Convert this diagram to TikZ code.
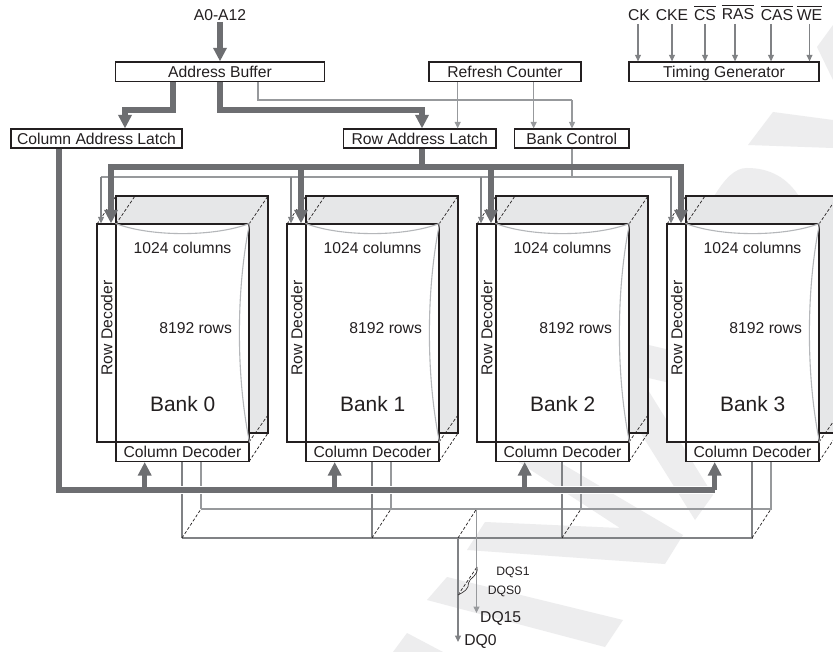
\documentclass[tikz,border=0pt]{standalone}
\usepackage{fontspec}
\setmainfont{Liberation Sans}
\usetikzlibrary{arrows.meta}
\definecolor{ink}{HTML}{231F20}
\definecolor{heavy}{HTML}{6D6E71}
\definecolor{mid}{HTML}{808285}
\definecolor{soft}{HTML}{97999C}
\definecolor{curve}{HTML}{B5B7BA}
\definecolor{backg}{HTML}{E6E7E8}
\definecolor{wmark}{HTML}{EDEDEE}
\newcommand{\ovl}[1]{\leavevmode\vbox{\hrule height 0.9pt\kern 3.2pt\hbox{#1}}}
\tikzset{
  every node/.style={text=ink,inner sep=0pt,font=\fontsize{15.7}{18}\selectfont},
  box/.style={draw=ink,line width=1.2pt,fill=white,text height=12pt,text depth=0pt},
  thickl/.style={draw=heavy,line width=5.3pt},
  bigtip/.style={-{Triangle[width=13pt,length=13.5pt]}},
  thinl/.style={draw=mid,line width=1.1pt},
  softl/.style={draw=soft,line width=1.1pt},
  thintip/.style={-{Triangle[width=6pt,length=6.5pt]}},
  dashl/.style={draw=ink,line width=0.7pt,dash pattern=on 3pt off 2pt},
  edgel/.style={draw=ink,line width=1.2pt},
  bowl/.style={draw=curve,line width=1.1pt},
  wmfill/.style={fill=wmark,draw=none}
}
\begin{document}
\begin{tikzpicture}[x=1pt,y=-1pt]
\useasboundingbox (0,0) rectangle (833,652);
\fill[white] (0,0) rectangle (833,652);
\begin{scope}
\clip (0,0) rectangle (833,652);
% background marks
\fill[wmfill] (817,47) -- (833,25) -- (833,80) -- cycle;
\fill[wmfill] (748,145) -- (773,112) -- (833,120) -- (833,148) -- cycle;
\fill[wmfill] (713,198) .. controls (725,178) and (735,168) .. (747,168) .. controls (770,168) and (788,178) .. (800,198) -- cycle;
\fill[wmfill] (640,343) -- (670,350) -- (670,383) -- (640,376) -- cycle;
\fill[wmfill] (620,345) -- (648,390) -- (713,495) -- (695,520) -- (620,400) -- cycle;
\fill[wmfill] (500,450) -- (530,445) -- (683,535) -- (665,564) -- (467,550) -- (485,522) -- (620,528) -- cycle;
\fill[wmfill] (447,577) -- (623,620) -- (605,647) -- (427,600) -- cycle;
\fill[wmfill] (407,633) -- (443,652) -- (393,652) -- cycle;

% named junctions
\coordinate (ctop) at (220,22);
\coordinate (j1) at (173,110);
\coordinate (j2) at (125,110);
\coordinate (j3) at (220,110);
\coordinate (j4) at (422,110);
\coordinate (j5) at (258,100);
\coordinate (j6) at (572,100);
\coordinate (j7) at (457.7,100);
\coordinate (j8) at (533.7,100);
\coordinate (rl) at (111,167);
\coordinate (rr) at (681,167);
\coordinate (rc) at (422,167);
\coordinate (tl) at (101,177);
\coordinate (tr) at (671.5,177);
\coordinate (tc) at (572,177);
\coordinate (cl) at (59,490);
\coordinate (cr) at (715,490);
\coordinate (fl) at (182,538);
\coordinate (fr) at (753,538);
\coordinate (bl) at (201,509);
\coordinate (br) at (771.5,509);
\coordinate (q0) at (458,538);
\coordinate (q1) at (476.5,509);
\coordinate (q0e) at (458,642);
\coordinate (q1e) at (476.5,613);
\coordinate (s0) at (458,595);
\coordinate (s1) at (477,567);

% top boxes
\node[box,minimum width=209pt,minimum height=19.5pt] (ab) at (220,71.7) {Address Buffer};
\node[box,minimum width=171pt,minimum height=19pt] (cal) at (96.5,138.5) {Column Address Latch};
\node[box,minimum width=152.5pt,minimum height=19pt] (ral) at (419.7,138.5) {Row Address Latch};
\node[box,minimum width=152pt,minimum height=19.5pt] (rc0) at (505,71.7) {Refresh Counter};
\node[box,minimum width=114.5pt,minimum height=19pt] (bc) at (571.7,138.5) {Bank Control};
\node[box,minimum width=190pt,minimum height=19.5pt] (tg) at (724,71.7) {Timing Generator};
\node (alab) at (220,15.5) {A0-A12};

% banks
\foreach \i in {0,1,2,3}{
  \pgfmathsetmacro{\o}{190*\i}
  \coordinate (ba\i) at ({116+\o},196);
  \coordinate (bb\i) at ({268+\o},196);
  \coordinate (bc\i) at ({268+\o},433);
  \coordinate (bd\i) at ({249+\o},433);
  \fill[backg] (ba\i) -- (bb\i) -- (bc\i) -- (bd\i) -- ({249+\o},224) -- ({116+\o},224) -- cycle;
  \draw[edgel] ({116+\o},224) -- (ba\i) -- (bb\i) -- (bc\i) -- (bd\i);
  \draw[dashl] ({97+\o},224) -- (ba\i);
  \draw[dashl] ({116+\o},224) -- ({135+\o},196);
  \draw[dashl] ({249+\o},224) -- (bb\i);
  \draw[dashl] ({249+\o},442) -- ({268+\o},415);
  \draw[dashl] ({249+\o},461.5) -- (bc\i);
  \node[box,minimum width=133pt,minimum height=218pt] (f\i) at ({182.5+\o},333) {};
  \node[box,minimum width=19pt,minimum height=218pt] (rd\i) at ({106.5+\o},333) {};
  \node[box,minimum width=133pt,minimum height=19.5pt] (cd\i) at ({182.5+\o},451.7) {Column Decoder};
  \draw[bowl] (f\i.north west) .. controls ({150+\o},237) and ({215+\o},237) .. (f\i.north east);
  \draw[bowl] (f\i.north east) .. controls ({236+\o},290) and ({236+\o},376) .. (f\i.south east);
  \node (cols\i) at ({182.5+\o},248) {1024 columns};
  \node[rotate=90] (rdl\i) at ({106.7+\o},328) {Row Decoder};
  \node (rows\i) at ({195.7+\o},328) {8192 rows};
  \node[font=\fontsize{20.9}{24}\selectfont] (bank\i) at ({182.7+\o},404) {Bank \i};
}

% data bus (below the heavy bus)
\draw[softl] (bl) -- (br);
\draw[thinl] (fl) -- (fr);
\foreach \i in {0,1,2,3}{
  \pgfmathsetmacro{\o}{190*\i}
  \coordinate (lf\i) at ({182+\o},538);
  \coordinate (lb\i) at ({201+\o},509);
  \draw[thinl] (cd\i.south -| lf\i) -- (lf\i);
  \draw[softl] (cd\i.south -| lb\i) -- (lb\i);
  \draw[dashl] (lf\i) -- (lb\i);
}
\draw[dashl] (q0) -- (q1);
\draw[dashl] (s0) -- (s1);
\draw[thinl,thintip] (q0) -- (q0e);
\draw[softl,thintip] (q1) -- (q1e);
\draw[draw=ink,line width=0.6pt] (s0) .. controls (464,592) and (469,589) .. (468.5,583) .. controls (469,578) and (479,576) .. (477,567);
\draw[draw=white,line width=8pt] (cl) -- (cr);

% thin control lines
\draw[softl] (ab.south -| j5) -- (j5) -- (j6);
\draw[softl,thintip] (j6) -- (bc.north -| j6);
\draw[softl,thintip] (rc0.south -| j7) -- (ral.north -| j7);
\draw[softl,thintip] (rc0.south -| j8) -- (bc.north -| j8);
\draw[softl] (bc.south -| tc) -- (tc);
\draw[softl] (tl) -- (tr);
\foreach \i in {0,1,2,3}{
  \pgfmathsetmacro{\o}{190*\i}
  \coordinate (t\i) at ({101+\o},177);
  \draw[thinl,thintip] (t\i) -- (rd\i.north -| t\i);
}

% heavy buses
\draw[thickl,bigtip] (ctop) -- (ab.north -| ctop);
\draw[thickl,bigtip,line join=miter] (ab.south -| j1) -- (j1) -- (j2) -- (cal.north -| j2);
\draw[thickl,bigtip,line join=miter] (ab.south -| j3) -- (j3) -- (j4) -- (ral.north -| j4);
\draw[thickl] (ral.south -| rc) -- (rc);
\draw[thickl,line cap=rect] (rl) -- (rr);
\foreach \i in {0,1,2,3}{
  \pgfmathsetmacro{\o}{190*\i}
  \coordinate (r\i) at ({111+\o},167);
  \draw[thickl,bigtip] (r\i) -- (rd\i.north -| r\i);
  \coordinate (u\i) at ({144.7+\o},490);
  \draw[thickl,bigtip] (u\i) -- (cd\i.south -| u\i);
}
\draw[thickl,line join=miter] (cal.south -| cl) -- (cl) -- (cr);

% control pins
\node (ck) at (639,15.5) {CK};
\node (cke) at (672,15.5) {CKE};
\node (cs) at (705,13.5) {\ovl{CS}};
\node (ras) at (738,12.5) {\ovl{RAS}};
\node (cas) at (777,13.5) {\ovl{CAS}};
\node (we) at (809.5,13.5) {\ovl{WE}};
\coordinate (p1) at (638,24);
\coordinate (p2) at (672,24);
\coordinate (p3) at (705,24);
\coordinate (p4) at (735,24);
\coordinate (p5) at (771,24);
\coordinate (p6) at (809.5,24);
\foreach \p in {p1,p2,p3,p4,p5,p6}{
  \draw[thinl,thintip] (\p) -- (tg.north -| \p);
}

% DQ labels
\node[font=\fontsize{12.2}{14}\selectfont] (dqs1) at (513,572) {DQS1};
\node[font=\fontsize{12.2}{14}\selectfont] (dqs0) at (504.5,591.5) {DQS0};
\node (dq15) at (500.7,618.5) {DQ15};
\node (dq0) at (480.5,641) {DQ0};
\end{scope}
\end{tikzpicture}
\end{document}
